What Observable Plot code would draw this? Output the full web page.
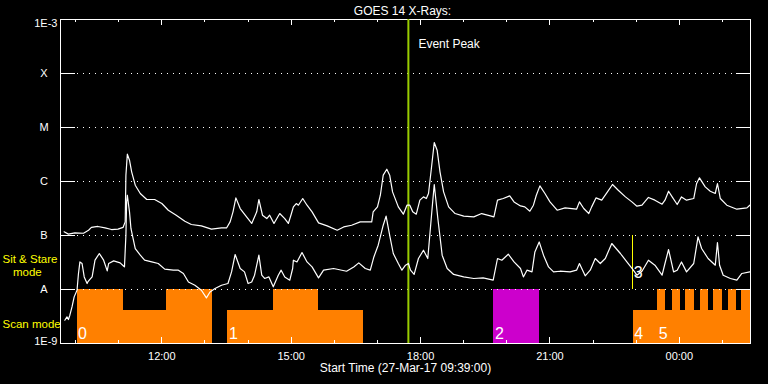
<!DOCTYPE html>
<html><head><meta charset="utf-8">
<script src="https://cdn.jsdelivr.net/npm/d3@7"></script>
<script src="https://cdn.jsdelivr.net/npm/@observablehq/plot@0.6"></script>
<style>
html,body{margin:0;padding:0;background:#000;}
svg{display:block;}
</style></head><body><div id="chart"></div>
<script>
// ---- data ----
const startTime = [2017, 2, 27, 9, 39];     // 27-Mar-17 09:39:00 UTC
const spanMinutes = 960;
const titleText = "GOES 14 X-Rays:";
const xLabelText = "Start Time (27-Mar-17 09:39:00)";
const xTickLabels = ["12:00", "15:00", "18:00", "21:00", "00:00"];
const yTickValues = [1e-3, 1e-4, 1e-5, 1e-6, 1e-7, 1e-8, 1e-9];
const yTickLabels = ["1E-3", "X", "M", "C", "B", "A", "1E-9"];

// long channel (1-8 A), minutes after start / flux
const longMinutes = [5,11,20,32,39,43,52,62,71,80,87,90,91,93,96,99,104,111,120,131,141,150,161,173,182,196,210,224,231,236,240,244,250,257,266,273,276,281,287,291,297,305,312,317,321,324,328,331,337,343,350,359,371,385,394,405,417,433,435,441,445,449,454,458,462,470,477,482,486,490,495,500,505,509,512,516,520,524,528,533,540,549,561,575,586,598,603,608,616,625,631,640,646,653,658,662,667,674,681,691,702,718,722,728,735,739,745,753,761,768,776,786,795,802,809,818,827,837,841,846,851,858,864,871,881,885,889,897,904,911,914,918,927,941,955,959];
const longFlux = [1.17e-7,1.06e-7,1.12e-7,1.10e-7,1.25e-7,1.41e-7,1.47e-7,1.38e-7,1.29e-7,1.31e-7,
1.41e-7,1.79e-7,1.31e-6,3.2e-6,2.48e-6,1.51e-6,8.54e-7,6.0e-7,4.64e-7,4.64e-7,
3.91e-7,2.94e-7,2.38e-7,1.84e-7,1.6e-7,1.51e-7,1.31e-7,1.38e-7,1.38e-7,1.79e-7,
2.74e-7,4.97e-7,3.16e-7,2.38e-7,1.67e-7,2.74e-7,4.64e-7,2.38e-7,2.06e-7,2.38e-7,
1.67e-7,2.55e-7,2.06e-7,1.67e-7,2.48e-7,3.39e-7,3.91e-7,3.64e-7,4.84e-7,3.64e-7,
2.74e-7,1.71e-7,1.51e-7,1.25e-7,1.44e-7,1.55e-7,1.79e-7,1.79e-7,2.74e-7,3.39e-7,
5.57e-7,1.31e-6,1.69e-6,1.31e-6,6.42e-7,3.39e-7,2.48e-7,3.64e-7,3.64e-7,2.74e-7,
2.48e-7,4.51e-7,5.19e-7,4.84e-7,6.0e-7,1.74e-6,5.27e-6,3.8e-6,1.51e-6,6.42e-7,
3.39e-7,2.55e-7,2.28e-7,2.21e-7,2.55e-7,2.31e-7,2.21e-7,4.51e-7,4.84e-7,5.41e-7,
4.19e-7,3.53e-7,3.39e-7,2.82e-7,3.64e-7,5.57e-7,8.29e-7,6.0e-7,4.19e-7,2.94e-7,
3.24e-7,3.07e-7,4.19e-7,3.16e-7,2.55e-7,3.39e-7,4.97e-7,4.51e-7,6.42e-7,8.8e-7,
6.9e-7,5.19e-7,4.19e-7,3.49e-7,3.64e-7,5.06e-7,4.51e-7,3.8e-7,4.51e-7,6.61e-7,
5.19e-7,3.75e-7,5.19e-7,4.51e-7,4.84e-7,9.18e-7,1.17e-6,7.94e-7,6.61e-7,6.0e-7,
9.18e-7,4.84e-7,3.64e-7,3.07e-7,3.24e-7,3.64e-7];

// short channel (0.5-4 A)
const shortMinutes = [6,9,11,13,16,19,23,25,27,30,33,37,38,40,44,48,54,60,65,67,74,83,88,89,91,92,93,96,98,104,111,117,127,136,145,157,164,171,178,187,196,203,208,215,224,233,238,243,250,256,261,266,270,276,280,284,290,296,303,307,312,319,323,324,329,336,343,350,359,366,380,398,408,415,424,431,436,442,449,453,458,463,470,475,480,484,487,492,498,505,511,517,520,525,531,538,547,561,575,588,602,608,614,623,631,640,644,649,656,660,666,672,679,686,695,709,718,722,730,737,744,751,758,767,779,788,797,802,809,818,827,837,841,846,853,858,864,871,881,887,892,901,911,914,917,922,932,941,948,959];
const shortFlux = [2.7e-9,3.11e-9,2.78e-9,3.34e-9,4.76e-9,7.3e-9,9.7e-9,1.98e-8,3.24e-8,3.03e-8,
1.71e-8,1.29e-8,1.38e-8,1.49e-8,1.71e-8,3.49e-8,4.64e-8,3.49e-8,2.21e-8,3.03e-8,
3.39e-8,3.11e-8,2.7e-8,2.62e-8,1.01e-7,4.19e-7,5.57e-7,2.74e-7,1.35e-7,5.74e-8,
4.32e-8,3.49e-8,3.24e-8,3.03e-8,2.38e-8,2.28e-8,2.28e-8,1.98e-8,1.38e-8,1.2e-8,
9.7e-9,6.99e-9,9.0e-9,1.04e-8,1.2e-8,1.29e-8,2.12e-8,4.45e-8,2.45e-8,2.12e-8,
1.29e-8,1.38e-8,1.84e-8,4.32e-8,1.84e-8,1.6e-8,1.71e-8,1.12e-8,1.84e-8,2.28e-8,
1.71e-8,1.49e-8,2.45e-8,3.49e-8,3.24e-8,4.84e-8,3.24e-8,2.62e-8,1.64e-8,2.28e-8,
2.45e-8,2.18e-8,2.62e-8,3.11e-8,2.45e-8,2.28e-8,4.01e-8,6.61e-8,1.55e-7,2.28e-7,
1.01e-7,4.64e-8,3.03e-8,2.28e-8,2.82e-8,3.03e-8,2.28e-8,1.9e-8,3.75e-8,5.34e-8,
3.75e-8,3.16e-7,8.8e-7,2.06e-7,4.32e-8,2.45e-8,1.9e-8,1.71e-8,1.6e-8,1.64e-8,
1.49e-8,3.75e-8,3.49e-8,4.5e-8,3.24e-8,2.45e-8,1.71e-8,2.28e-8,2.12e-8,4.97e-8,
7.6e-8,4.32e-8,2.62e-8,2.12e-8,2.18e-8,2.12e-8,2.28e-8,3.03e-8,1.79e-8,2.28e-8,
3.75e-8,3.03e-8,3.75e-8,7.11e-8,4.64e-8,3.24e-8,2.28e-8,1.84e-8,2.18e-8,3.49e-8,
2.82e-8,1.84e-8,3.03e-8,5.5e-8,2.12e-8,2.28e-8,3.24e-8,2.12e-8,3.03e-8,9.42e-8,
5.74e-8,3.75e-8,2.82e-8,7.42e-8,2.82e-8,1.84e-8,1.6e-8,1.49e-8,1.98e-8,2.12e-8];

// observing-mode blocks (minutes after start), segment number, level 2 = full, 1 = half
const blockStart = [23,87,147,233,296,359,603,797,831,842,851,862,870,882,890,901,909,921,929,940,948];
const blockEnd   = [87,147,211,296,359,421,666,830,842,851,862,870,882,890,901,909,921,929,940,948,960];
const blockSegment = [0,0,0,1,1,1,2,4,5,5,5,5,5,5,5,5,5,5,5,5,5];
const blockLevel = [2,1,2,1,2,1,2,1,2,1,2,1,2,1,2,1,2,1,2,1,2];
const segmentLabels = ["0","1","2","4","5"];
const segmentLabelMinutes = [23,233,603,797,831];
const sitStareLabel = "3";
const sitStareMinute = 796;
const eventPeakMinute = 484;
const eventPeakText = "Event Peak";

// ---- derived ----
const t0 = new Date(Date.UTC(...startTime));
const toDate = m => new Date(t0.getTime() + m * 60000);
const tEnd = toDate(spanMinutes);
const longData = longMinutes.map((m, i) => ({t: toDate(m), v: longFlux[i]}));
const shortData = shortMinutes.map((m, i) => ({t: toDate(m), v: shortFlux[i]}));
const levelTop = {2: 1e-8, 1: 4.1e-9};
const blocks = blockStart.map((s, i) => ({
  x1: toDate(s), x2: toDate(blockEnd[i]), top: levelTop[blockLevel[i]],
  fill: blockSegment[i] === 2 ? "#cc00cc" : "#ff8000"
}));
const majorTimes = xTickLabels.map(s => {
  const [h, mm] = s.split(":").map(Number);
  const d = new Date(Date.UTC(startTime[0], startTime[1], startTime[2], h, mm));
  if (d < t0) d.setUTCDate(d.getUTCDate() + 1);
  return d;
});
const minorTimes = d3.utcHour.range(t0, tEnd).filter(h => h > t0 && !majorTimes.some(d => +d === +h));
const gridVals = yTickValues.slice(1, -1);
const gridLabels = yTickLabels.slice(1, -1);

const W = 768, H = 384, mL = 60, mR = 18, mT = 19, mB = 41;
const fw = W - mL - mR, fh = H - mT - mB;

const chart = Plot.plot({
  width: W, height: H,
  marginLeft: mL, marginRight: mR, marginTop: mT, marginBottom: mB,
  style: {background: "#000", color: "#fff", fontFamily: "'Liberation Sans', Arial, sans-serif", fontSize: "11px"},
  x: {type: "utc", domain: [t0, tEnd], axis: null},
  y: {type: "log", domain: [1e-9, 1e-3], axis: null},
  color: {type: "identity"},
  marks: [
    Plot.rect(blocks, {x1: "x1", x2: "x2", y1: 1e-9, y2: "top", fill: "fill", shapeRendering: "crispEdges"}),
    Plot.ruleY(gridVals, {stroke: "#fff", strokeDasharray: "1,5", insetLeft: 17, insetRight: 14, shapeRendering: "crispEdges"}),
    Plot.ruleY(gridVals, {stroke: "#fff", insetRight: fw - 15, shapeRendering: "crispEdges"}),
    Plot.ruleY(gridVals, {stroke: "#fff", insetLeft: fw - 14, shapeRendering: "crispEdges"}),
    Plot.ruleX(majorTimes, {stroke: "#fff", insetBottom: fh - 6, shapeRendering: "crispEdges"}),
    Plot.ruleX(majorTimes, {stroke: "#fff", insetTop: fh - 6, shapeRendering: "crispEdges"}),
    Plot.ruleX(minorTimes, {stroke: "#fff", insetBottom: fh - 3, shapeRendering: "crispEdges"}),
    Plot.ruleX(minorTimes, {stroke: "#fff", insetTop: fh - 3, shapeRendering: "crispEdges"}),
    Plot.frame({stroke: "#fff", shapeRendering: "crispEdges"}),
    Plot.ruleX([toDate(eventPeakMinute)], {stroke: "#99cc00", strokeWidth: 2}),
    Plot.ruleX([toDate(sitStareMinute)], {y1: 1e-8, y2: 1e-7, stroke: "#ffff00", shapeRendering: "crispEdges"}),
    Plot.line(longData, {x: "t", y: "v", stroke: "#fff", strokeWidth: 1.2}),
    Plot.line(shortData, {x: "t", y: "v", stroke: "#fff", strokeWidth: 1.2}),
    // segment numbers
    Plot.text(segmentLabelMinutes, {x: m => toDate(m), y: 1e-9, text: (d, i) => segmentLabels[i],
      textAnchor: "start", lineAnchor: "bottom", dx: 1, dy: -5, fontSize: 16, fill: "#fff"}),
    Plot.text([sitStareMinute], {x: m => toDate(m), y: 1e-8, text: () => sitStareLabel,
      textAnchor: "start", lineAnchor: "bottom", dx: 1, dy: -12, fontSize: 16, fill: "#fff"}),
    Plot.text([eventPeakText], {x: () => toDate(eventPeakMinute), frameAnchor: "top", text: d => d,
      textAnchor: "start", lineAnchor: "bottom", dx: 10, dy: 28, fontSize: 12, fill: "#fff"}),
    // y labels
    Plot.text(gridVals, {y: d => d, text: (d, i) => gridLabels[i], frameAnchor: "left",
      textAnchor: "middle", lineAnchor: "middle", dx: -16.5, fill: "#fff"}),
    Plot.text([yTickLabels[0]], {y: () => yTickValues[0], text: d => d, frameAnchor: "left",
      textAnchor: "end", lineAnchor: "top", dx: -3, fill: "#fff"}),
    Plot.text([yTickLabels[6]], {y: () => yTickValues[6], text: d => d, frameAnchor: "left",
      textAnchor: "end", lineAnchor: "bottom", dx: -3, dy: 1, fill: "#fff"}),
    // x tick labels
    Plot.text(majorTimes, {x: d => d, text: (d, i) => xTickLabels[i], frameAnchor: "bottom",
      lineAnchor: "bottom", dy: 16, fill: "#fff"}),
    // title and axis label
    Plot.text([titleText], {frameAnchor: "top", text: d => d, lineAnchor: "bottom", dy: -5, dx: -3,
      fontSize: 12, letterSpacing: 1.6, fill: "#fff"}),
    Plot.text([xLabelText], {frameAnchor: "bottom", text: d => d, lineAnchor: "bottom", dy: 28, fontSize: 12, fill: "#fff"}),
    // mode labels
    Plot.text(["Sit & Stare"], {frameAnchor: "bottom-left", text: d => d, textAnchor: "start", lineAnchor: "bottom",
      dx: -58, dy: -81, fontSize: 11.5, fill: "#ffff00", letterSpacing: 1}),
    Plot.text(["mode"], {frameAnchor: "bottom-left", text: d => d, textAnchor: "start", lineAnchor: "bottom",
      dx: -47.5, dy: -67.5, fontSize: 11.5, fill: "#ffff00", letterSpacing: 1}),
    Plot.text(["Scan mode"], {frameAnchor: "bottom-left", text: d => d, textAnchor: "start", lineAnchor: "bottom",
      dx: -58, dy: -16, fontSize: 11.5, fill: "#ffff00"})
  ]
});
document.getElementById("chart").appendChild(chart);
</script>
</body></html>
